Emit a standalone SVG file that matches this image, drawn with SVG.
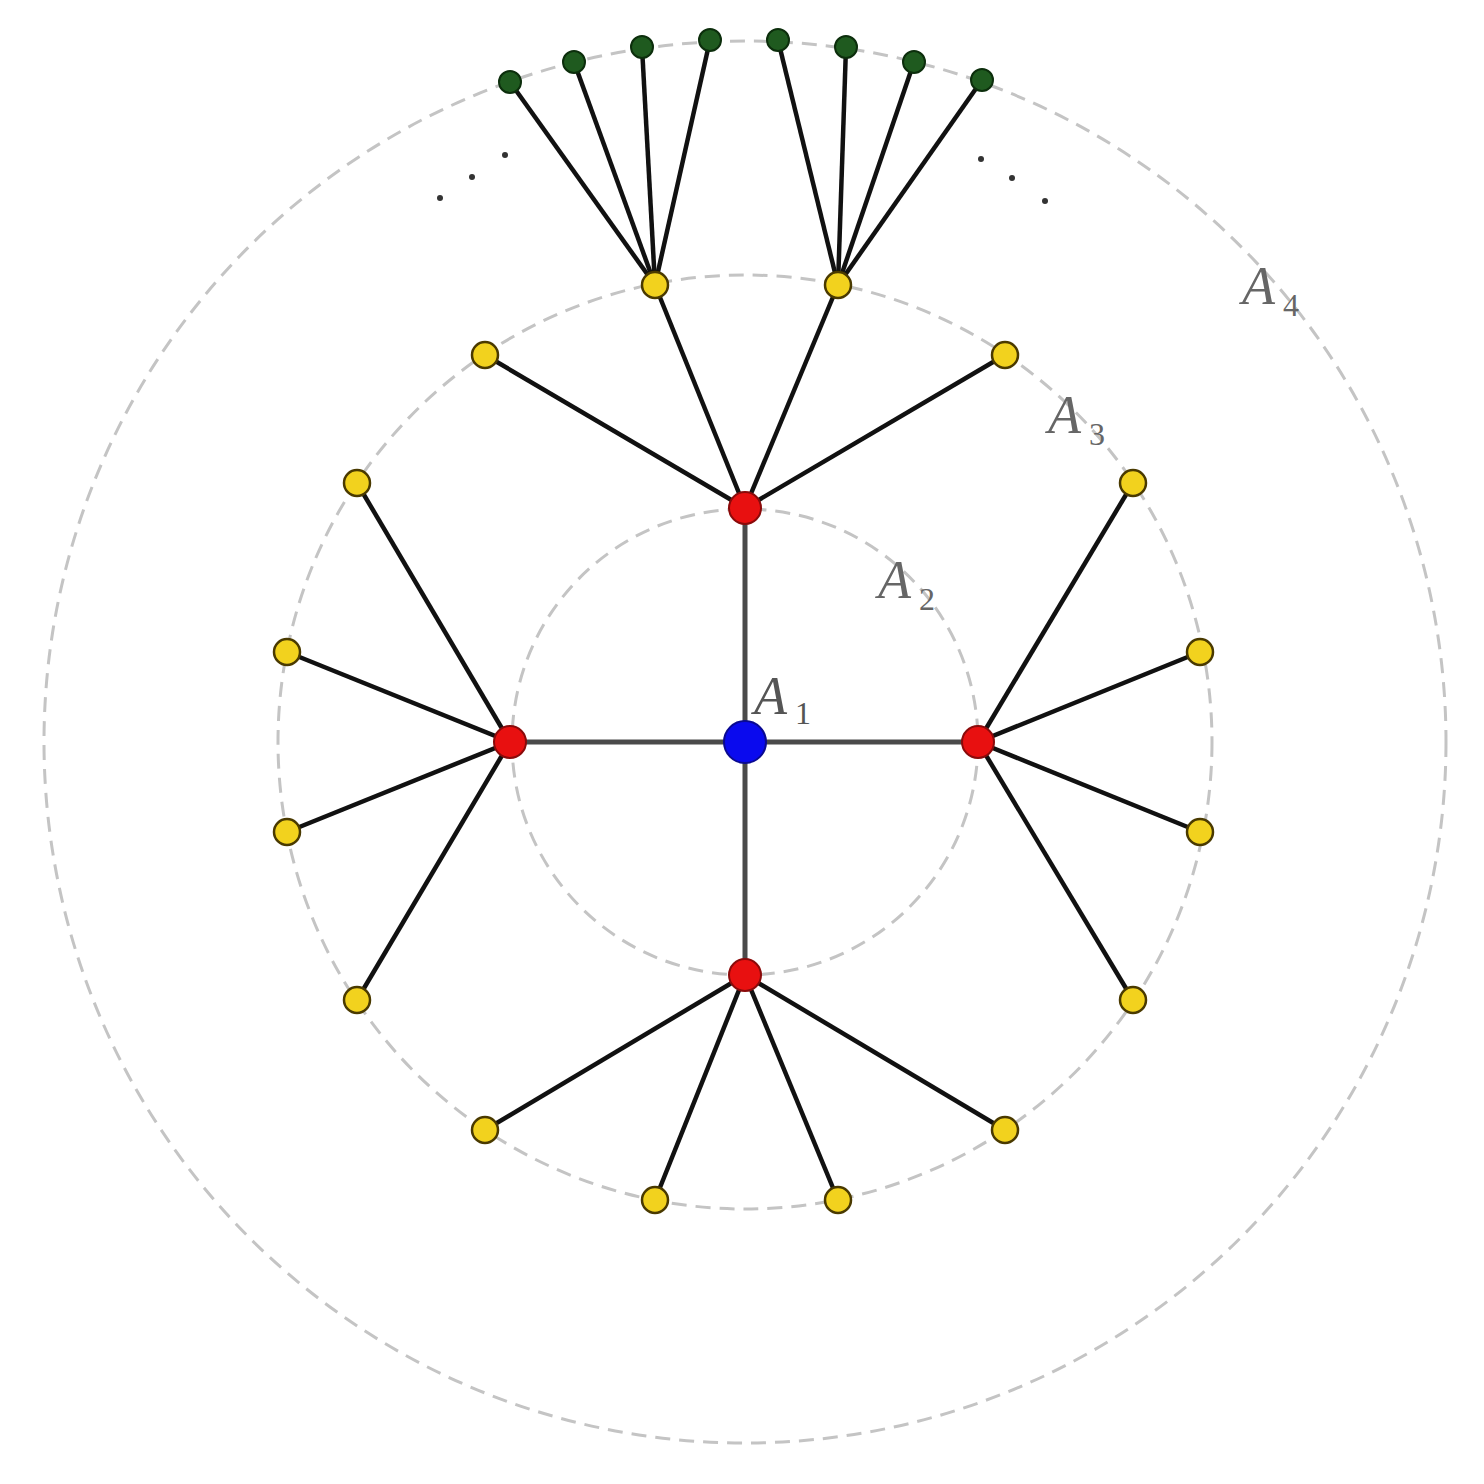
<svg xmlns="http://www.w3.org/2000/svg" width="1484" height="1484" viewBox="0 0 1484 1484">
<style>
.ring{fill:none;stroke:#c4c4c4;stroke-width:3;stroke-dasharray:15 9}
.hub{stroke:#4a4a4a;stroke-width:5;fill:none}
.e{stroke:#111;stroke-width:4.5;fill:none}
.blue{fill:#0a0aee;stroke:#0a0a90;stroke-width:2}
.red{fill:#e81010;stroke:#8a0a0a;stroke-width:2}
.yel{fill:#f2d21e;stroke:#4a3a00;stroke-width:2.5}
.grn{fill:#1f5a1f;stroke:#0c2e0c;stroke-width:2}
.dot{fill:#333}
.lbl{font-family:"Liberation Serif","DejaVu Serif",serif;font-style:italic;fill:#666;font-size:54px}
.sub{font-family:"Liberation Serif","DejaVu Serif",serif;fill:#666;font-size:32px}
</style>
<rect width="1484" height="1484" fill="#fff"/>
<g id="rings">
<circle class="ring" cx="745" cy="742" r="233"/>
<circle class="ring" cx="745" cy="742" r="467"/>
<circle class="ring" cx="745" cy="742" r="701"/>
</g>
<g id="connectors">
<line class="hub" x1="745" y1="742" x2="745" y2="508"/>
<line class="hub" x1="745" y1="742" x2="510" y2="742"/>
<line class="hub" x1="745" y1="742" x2="978" y2="742"/>
<line class="hub" x1="745" y1="742" x2="745" y2="975"/>
<line class="e" x1="745" y1="508" x2="485" y2="355"/>
<line class="e" x1="745" y1="508" x2="655" y2="285"/>
<line class="e" x1="745" y1="508" x2="838" y2="285"/>
<line class="e" x1="745" y1="508" x2="1005" y2="355"/>
<line class="e" x1="510" y1="742" x2="357" y2="483"/>
<line class="e" x1="510" y1="742" x2="287" y2="652"/>
<line class="e" x1="510" y1="742" x2="287" y2="832"/>
<line class="e" x1="510" y1="742" x2="357" y2="1000"/>
<line class="e" x1="978" y1="742" x2="1133" y2="483"/>
<line class="e" x1="978" y1="742" x2="1200" y2="652"/>
<line class="e" x1="978" y1="742" x2="1200" y2="832"/>
<line class="e" x1="978" y1="742" x2="1133" y2="1000"/>
<line class="e" x1="745" y1="975" x2="485" y2="1130"/>
<line class="e" x1="745" y1="975" x2="655" y2="1200"/>
<line class="e" x1="745" y1="975" x2="838" y2="1200"/>
<line class="e" x1="745" y1="975" x2="1005" y2="1130"/>
<line class="e" x1="655" y1="285" x2="510" y2="82"/>
<line class="e" x1="655" y1="285" x2="574" y2="62"/>
<line class="e" x1="655" y1="285" x2="642" y2="47"/>
<line class="e" x1="655" y1="285" x2="710" y2="40"/>
<line class="e" x1="838" y1="285" x2="778" y2="40"/>
<line class="e" x1="838" y1="285" x2="846" y2="47"/>
<line class="e" x1="838" y1="285" x2="914" y2="62"/>
<line class="e" x1="838" y1="285" x2="982" y2="80"/>
</g>
<g id="n-center"><circle class="blue" cx="745" cy="742" r="21"/></g>
<g id="n-red-top"><circle class="red" cx="745" cy="508" r="16"/></g>
<g id="n-red-left"><circle class="red" cx="510" cy="742" r="16"/></g>
<g id="n-red-right"><circle class="red" cx="978" cy="742" r="16"/></g>
<g id="n-red-bottom"><circle class="red" cx="745" cy="975" r="16"/></g>
<g id="n-yellow">
<circle class="yel" cx="485" cy="355" r="13"/>
<circle class="yel" cx="655" cy="285" r="13"/>
<circle class="yel" cx="838" cy="285" r="13"/>
<circle class="yel" cx="1005" cy="355" r="13"/>
<circle class="yel" cx="357" cy="483" r="13"/>
<circle class="yel" cx="287" cy="652" r="13"/>
<circle class="yel" cx="287" cy="832" r="13"/>
<circle class="yel" cx="357" cy="1000" r="13"/>
<circle class="yel" cx="1133" cy="483" r="13"/>
<circle class="yel" cx="1200" cy="652" r="13"/>
<circle class="yel" cx="1200" cy="832" r="13"/>
<circle class="yel" cx="1133" cy="1000" r="13"/>
<circle class="yel" cx="485" cy="1130" r="13"/>
<circle class="yel" cx="655" cy="1200" r="13"/>
<circle class="yel" cx="838" cy="1200" r="13"/>
<circle class="yel" cx="1005" cy="1130" r="13"/>
</g>
<g id="n-green">
<circle class="grn" cx="510" cy="82" r="11"/>
<circle class="grn" cx="574" cy="62" r="11"/>
<circle class="grn" cx="642" cy="47" r="11"/>
<circle class="grn" cx="710" cy="40" r="11"/>
<circle class="grn" cx="778" cy="40" r="11"/>
<circle class="grn" cx="846" cy="47" r="11"/>
<circle class="grn" cx="914" cy="62" r="11"/>
<circle class="grn" cx="982" cy="80" r="11"/>
</g>
<g id="ellipsis">
<circle class="dot" cx="440" cy="198" r="3"/>
<circle class="dot" cx="472" cy="177" r="3"/>
<circle class="dot" cx="505" cy="155" r="3"/>
<circle class="dot" cx="981" cy="159" r="3"/>
<circle class="dot" cx="1012" cy="178" r="3"/>
<circle class="dot" cx="1045" cy="201" r="3"/>
</g>
<g id="labels">
<text class="lbl" x="754" y="714" style="fill:#555">A</text><text class="sub" x="795" y="724" style="fill:#555">1</text>
<text class="lbl" x="878" y="598">A</text><text class="sub" x="919" y="610">2</text>
<text class="lbl" x="1048" y="433">A</text><text class="sub" x="1089" y="445">3</text>
<text class="lbl" x="1242" y="304">A</text><text class="sub" x="1283" y="316">4</text>
</g>
</svg>
